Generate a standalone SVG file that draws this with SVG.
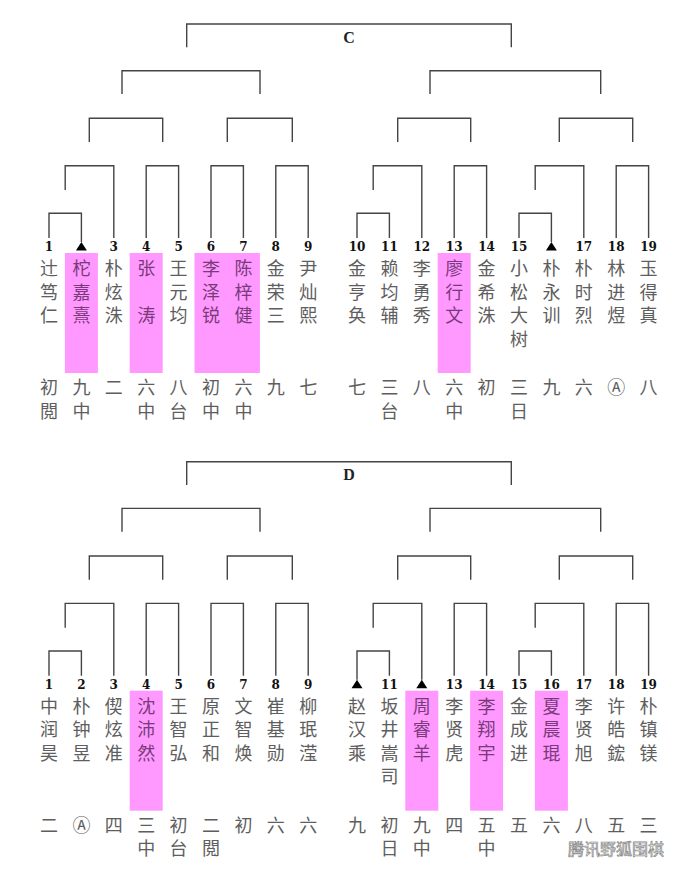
<svg xmlns="http://www.w3.org/2000/svg" width="690" height="877" viewBox="0 0 690 877">
<style>
.ln{fill:none;stroke:#444;stroke-width:1.4}
.num{font-family:"DejaVu Serif","Liberation Serif",serif;font-weight:bold;font-size:12px;fill:#111;text-anchor:middle}
.nm{font-family:"Noto Sans CJK SC","Noto Sans CJK JP",sans-serif;font-size:18px;fill:#5e5e5e;text-anchor:middle}
.hl .nm{fill:#7a3a7a}
.pk{fill:#ff99ff}
.ttl{font-family:"Liberation Serif",serif;font-weight:bold;font-size:16px;fill:#222;text-anchor:middle}
.wm{font-family:"Noto Sans CJK SC",sans-serif;font-size:16px;fill:#fff;stroke:#888;stroke-width:0.7}
</style>
<defs>
<path id="tri" d="M-5.5 8.5 L5.5 8.5 L0 0 Z" fill="#000"/>
</defs>
<rect width="690" height="877" fill="#fff"/>

<g id="section-C">
<text class="ttl" x="349" y="42.5">C</text>
<g id="C-connectors">
<path class="ln" d="M186.7 47.3V24H511.3V47.3"/>
<path class="ln" d="M122 94V70.7H260V94M430 94V70.7H600.7V94"/>
<path class="ln" d="M89.3 142V118.3H162.7V142M227.3 142V118.3H292.3V142M397.7 142V118.3H470.7V142M559.3 142V118.3H632.7V142"/>
<path class="ln" d="M65.2 190V165.7H113.8V238M146.2 238V165.7H178.6V238M211 238V165.7H243.4V238M275.8 238V165.7H308.2V238M373.2 190V165.7H421.8V238M454.2 238V165.7H486.6V238M535.2 190V165.7H583.8V238M616.2 238V165.7H648.6V238"/>
<path class="ln" d="M49 238V213.3H81.4V242M357 238V213.3H389.4V238M519 238V213.3H551.4V242"/>
</g>
<g id="C-1"><text class="num" x="49" y="251">1</text><text class="nm"><tspan x="49" y="275">辻</tspan><tspan x="49" y="298.5">笃</tspan><tspan x="49" y="322">仁</tspan><tspan x="49" y="394">初</tspan><tspan x="49" y="417.5">閲</tspan></text></g>
<g id="C-2" class="hl"><use href="#tri" x="81.4" y="242"/><rect class="pk" x="64.9" y="253" width="33" height="120"/><text class="nm"><tspan x="81.4" y="275">柁</tspan><tspan x="81.4" y="298.5">嘉</tspan><tspan x="81.4" y="322">熹</tspan></text><text class="nm" style="fill:#5e5e5e"><tspan x="81.4" y="394">九</tspan><tspan x="81.4" y="417.5">中</tspan></text></g>
<g id="C-3"><text class="num" x="113.8" y="251">3</text><text class="nm"><tspan x="113.8" y="275">朴</tspan><tspan x="113.8" y="298.5">炫</tspan><tspan x="113.8" y="322">洙</tspan><tspan x="113.8" y="394">二</tspan></text></g>
<g id="C-4" class="hl"><text class="num" x="146.2" y="251">4</text><rect class="pk" x="129.7" y="253" width="33" height="120"/><text class="nm"><tspan x="146.2" y="275">张</tspan><tspan x="146.2" y="322">涛</tspan></text><text class="nm" style="fill:#5e5e5e"><tspan x="146.2" y="394">六</tspan><tspan x="146.2" y="417.5">中</tspan></text></g>
<g id="C-5"><text class="num" x="178.6" y="251">5</text><text class="nm"><tspan x="178.6" y="275">王</tspan><tspan x="178.6" y="298.5">元</tspan><tspan x="178.6" y="322">均</tspan><tspan x="178.6" y="394">八</tspan><tspan x="178.6" y="417.5">台</tspan></text></g>
<rect class="pk" x="194.5" y="253" width="65.4" height="120"/>
<g id="C-6" class="hl"><text class="num" x="211" y="251">6</text><text class="nm"><tspan x="211" y="275">李</tspan><tspan x="211" y="298.5">泽</tspan><tspan x="211" y="322">锐</tspan></text><text class="nm" style="fill:#5e5e5e"><tspan x="211" y="394">初</tspan><tspan x="211" y="417.5">中</tspan></text></g>
<g id="C-7" class="hl"><text class="num" x="243.4" y="251">7</text><text class="nm"><tspan x="243.4" y="275">陈</tspan><tspan x="243.4" y="298.5">梓</tspan><tspan x="243.4" y="322">健</tspan></text><text class="nm" style="fill:#5e5e5e"><tspan x="243.4" y="394">六</tspan><tspan x="243.4" y="417.5">中</tspan></text></g>
<g id="C-8"><text class="num" x="275.8" y="251">8</text><text class="nm"><tspan x="275.8" y="275">金</tspan><tspan x="275.8" y="298.5">荣</tspan><tspan x="275.8" y="322">三</tspan><tspan x="275.8" y="394">九</tspan></text></g>
<g id="C-9"><text class="num" x="308.2" y="251">9</text><text class="nm"><tspan x="308.2" y="275">尹</tspan><tspan x="308.2" y="298.5">灿</tspan><tspan x="308.2" y="322">熙</tspan><tspan x="308.2" y="394">七</tspan></text></g>
<g id="C-10"><text class="num" x="357" y="251">10</text><text class="nm"><tspan x="357" y="275">金</tspan><tspan x="357" y="298.5">亨</tspan><tspan x="357" y="322">奂</tspan><tspan x="357" y="394">七</tspan></text></g>
<g id="C-11"><text class="num" x="389.4" y="251">11</text><text class="nm"><tspan x="389.4" y="275">赖</tspan><tspan x="389.4" y="298.5">均</tspan><tspan x="389.4" y="322">辅</tspan><tspan x="389.4" y="394">三</tspan><tspan x="389.4" y="417.5">台</tspan></text></g>
<g id="C-12"><text class="num" x="421.8" y="251">12</text><text class="nm"><tspan x="421.8" y="275">李</tspan><tspan x="421.8" y="298.5">勇</tspan><tspan x="421.8" y="322">秀</tspan><tspan x="421.8" y="394">八</tspan></text></g>
<g id="C-13" class="hl"><text class="num" x="454.2" y="251">13</text><rect class="pk" x="437.7" y="253" width="33" height="120"/><text class="nm"><tspan x="454.2" y="275">廖</tspan><tspan x="454.2" y="298.5">行</tspan><tspan x="454.2" y="322">文</tspan></text><text class="nm" style="fill:#5e5e5e"><tspan x="454.2" y="394">六</tspan><tspan x="454.2" y="417.5">中</tspan></text></g>
<g id="C-14"><text class="num" x="486.6" y="251">14</text><text class="nm"><tspan x="486.6" y="275">金</tspan><tspan x="486.6" y="298.5">希</tspan><tspan x="486.6" y="322">洙</tspan><tspan x="486.6" y="394">初</tspan></text></g>
<g id="C-15"><text class="num" x="519" y="251">15</text><text class="nm"><tspan x="519" y="275">小</tspan><tspan x="519" y="298.5">松</tspan><tspan x="519" y="322">大</tspan><tspan x="519" y="345.5">树</tspan><tspan x="519" y="394">三</tspan><tspan x="519" y="417.5">日</tspan></text></g>
<g id="C-16"><use href="#tri" x="551.4" y="242"/><text class="nm"><tspan x="551.4" y="275">朴</tspan><tspan x="551.4" y="298.5">永</tspan><tspan x="551.4" y="322">训</tspan><tspan x="551.4" y="394">九</tspan></text></g>
<g id="C-17"><text class="num" x="583.8" y="251">17</text><text class="nm"><tspan x="583.8" y="275">朴</tspan><tspan x="583.8" y="298.5">时</tspan><tspan x="583.8" y="322">烈</tspan><tspan x="583.8" y="394">六</tspan></text></g>
<g id="C-18"><text class="num" x="616.2" y="251">18</text><text class="nm"><tspan x="616.2" y="275">林</tspan><tspan x="616.2" y="298.5">进</tspan><tspan x="616.2" y="322">煜</tspan><tspan x="616.2" y="394">Ⓐ</tspan></text></g>
<g id="C-19"><text class="num" x="648.6" y="251">19</text><text class="nm"><tspan x="648.6" y="275">玉</tspan><tspan x="648.6" y="298.5">得</tspan><tspan x="648.6" y="322">真</tspan><tspan x="648.6" y="394">八</tspan></text></g>
</g>

<g id="section-D" transform="translate(0,437.7)">
<text class="ttl" x="349" y="42.5">D</text>
<g id="D-connectors">
<path class="ln" d="M186.7 47.3V24H511.3V47.3"/>
<path class="ln" d="M122 94V70.7H260V94M430 94V70.7H600.7V94"/>
<path class="ln" d="M89.3 142V118.3H162.7V142M227.3 142V118.3H292.3V142M397.7 142V118.3H470.7V142M559.3 142V118.3H632.7V142"/>
<path class="ln" d="M65.2 190V165.7H113.8V238M146.2 238V165.7H178.6V238M211 238V165.7H243.4V238M275.8 238V165.7H308.2V238M373.2 190V165.7H421.8V242M454.2 238V165.7H486.6V238M535.2 190V165.7H583.8V238M616.2 238V165.7H648.6V238"/>
<path class="ln" d="M49 238V213.3H81.4V238M357 242V213.3H389.4V238M519 238V213.3H551.4V238"/>
</g>
<g id="D-1"><text class="num" x="49" y="251">1</text><text class="nm"><tspan x="49" y="275">中</tspan><tspan x="49" y="298.5">润</tspan><tspan x="49" y="322">昊</tspan><tspan x="49" y="394">二</tspan></text></g>
<g id="D-2"><text class="num" x="81.4" y="251">2</text><text class="nm"><tspan x="81.4" y="275">朴</tspan><tspan x="81.4" y="298.5">钟</tspan><tspan x="81.4" y="322">昱</tspan><tspan x="81.4" y="394">Ⓐ</tspan></text></g>
<g id="D-3"><text class="num" x="113.8" y="251">3</text><text class="nm"><tspan x="113.8" y="275">偰</tspan><tspan x="113.8" y="298.5">炫</tspan><tspan x="113.8" y="322">准</tspan><tspan x="113.8" y="394">四</tspan></text></g>
<g id="D-4" class="hl"><text class="num" x="146.2" y="251">4</text><rect class="pk" x="129.7" y="253" width="33" height="120"/><text class="nm"><tspan x="146.2" y="275">沈</tspan><tspan x="146.2" y="298.5">沛</tspan><tspan x="146.2" y="322">然</tspan></text><text class="nm" style="fill:#5e5e5e"><tspan x="146.2" y="394">三</tspan><tspan x="146.2" y="417.5">中</tspan></text></g>
<g id="D-5"><text class="num" x="178.6" y="251">5</text><text class="nm"><tspan x="178.6" y="275">王</tspan><tspan x="178.6" y="298.5">智</tspan><tspan x="178.6" y="322">弘</tspan><tspan x="178.6" y="394">初</tspan><tspan x="178.6" y="417.5">台</tspan></text></g>
<g id="D-6"><text class="num" x="211" y="251">6</text><text class="nm"><tspan x="211" y="275">原</tspan><tspan x="211" y="298.5">正</tspan><tspan x="211" y="322">和</tspan><tspan x="211" y="394">二</tspan><tspan x="211" y="417.5">閲</tspan></text></g>
<g id="D-7"><text class="num" x="243.4" y="251">7</text><text class="nm"><tspan x="243.4" y="275">文</tspan><tspan x="243.4" y="298.5">智</tspan><tspan x="243.4" y="322">焕</tspan><tspan x="243.4" y="394">初</tspan></text></g>
<g id="D-8"><text class="num" x="275.8" y="251">8</text><text class="nm"><tspan x="275.8" y="275">崔</tspan><tspan x="275.8" y="298.5">基</tspan><tspan x="275.8" y="322">勋</tspan><tspan x="275.8" y="394">六</tspan></text></g>
<g id="D-9"><text class="num" x="308.2" y="251">9</text><text class="nm"><tspan x="308.2" y="275">柳</tspan><tspan x="308.2" y="298.5">珉</tspan><tspan x="308.2" y="322">滢</tspan><tspan x="308.2" y="394">六</tspan></text></g>
<g id="D-10"><use href="#tri" x="357" y="242"/><text class="nm"><tspan x="357" y="275">赵</tspan><tspan x="357" y="298.5">汉</tspan><tspan x="357" y="322">乘</tspan><tspan x="357" y="394">九</tspan></text></g>
<g id="D-11"><text class="num" x="389.4" y="251">11</text><text class="nm"><tspan x="389.4" y="275">坂</tspan><tspan x="389.4" y="298.5">井</tspan><tspan x="389.4" y="322">嵩</tspan><tspan x="389.4" y="345.5">司</tspan><tspan x="389.4" y="394">初</tspan><tspan x="389.4" y="417.5">日</tspan></text></g>
<g id="D-12" class="hl"><use href="#tri" x="421.8" y="242"/><rect class="pk" x="405.3" y="253" width="33" height="120"/><text class="nm"><tspan x="421.8" y="275">周</tspan><tspan x="421.8" y="298.5">睿</tspan><tspan x="421.8" y="322">羊</tspan></text><text class="nm" style="fill:#5e5e5e"><tspan x="421.8" y="394">九</tspan><tspan x="421.8" y="417.5">中</tspan></text></g>
<g id="D-13"><text class="num" x="454.2" y="251">13</text><text class="nm"><tspan x="454.2" y="275">李</tspan><tspan x="454.2" y="298.5">贤</tspan><tspan x="454.2" y="322">虎</tspan><tspan x="454.2" y="394">四</tspan></text></g>
<g id="D-14" class="hl"><text class="num" x="486.6" y="251">14</text><rect class="pk" x="470.1" y="253" width="33" height="120"/><text class="nm"><tspan x="486.6" y="275">李</tspan><tspan x="486.6" y="298.5">翔</tspan><tspan x="486.6" y="322">宇</tspan></text><text class="nm" style="fill:#5e5e5e"><tspan x="486.6" y="394">五</tspan><tspan x="486.6" y="417.5">中</tspan></text></g>
<g id="D-15"><text class="num" x="519" y="251">15</text><text class="nm"><tspan x="519" y="275">金</tspan><tspan x="519" y="298.5">成</tspan><tspan x="519" y="322">进</tspan><tspan x="519" y="394">五</tspan></text></g>
<g id="D-16" class="hl"><text class="num" x="551.4" y="251">16</text><rect class="pk" x="534.9" y="253" width="33" height="120"/><text class="nm"><tspan x="551.4" y="275">夏</tspan><tspan x="551.4" y="298.5">晨</tspan><tspan x="551.4" y="322">琨</tspan></text><text class="nm" style="fill:#5e5e5e"><tspan x="551.4" y="394">六</tspan></text></g>
<g id="D-17"><text class="num" x="583.8" y="251">17</text><text class="nm"><tspan x="583.8" y="275">李</tspan><tspan x="583.8" y="298.5">贤</tspan><tspan x="583.8" y="322">旭</tspan><tspan x="583.8" y="394">八</tspan></text></g>
<g id="D-18"><text class="num" x="616.2" y="251">18</text><text class="nm"><tspan x="616.2" y="275">许</tspan><tspan x="616.2" y="298.5">皓</tspan><tspan x="616.2" y="322">鋐</tspan><tspan x="616.2" y="394">五</tspan></text></g>
<g id="D-19"><text class="num" x="648.6" y="251">19</text><text class="nm"><tspan x="648.6" y="275">朴</tspan><tspan x="648.6" y="298.5">镇</tspan><tspan x="648.6" y="322">镁</tspan><tspan x="648.6" y="394">三</tspan></text></g>
</g>

<text class="wm" x="568" y="855">腾讯野狐围棋</text>
</svg>
